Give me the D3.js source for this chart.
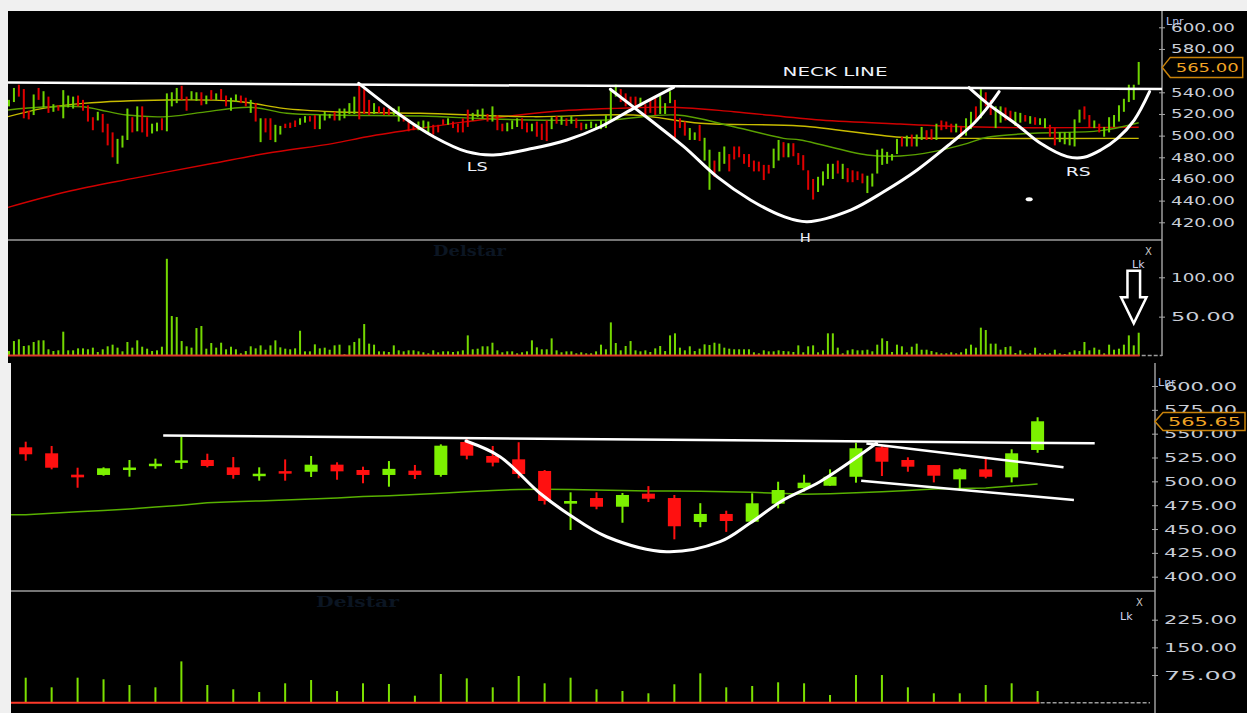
<!DOCTYPE html>
<html>
<head>
<meta charset="utf-8">
<script src="https://cdn.jsdelivr.net/npm/d3@7"></script>
<style>
body{margin:0;background:#f0f0f0;overflow:hidden}
svg{display:block}
</style>
</head>
<body>
<svg id="chart"></svg>
<script>
// ---------- upper chart (daily bars) ----------
var topDir = "GGRRRGRGRG" + "RGGGRRRRGR" + "RRGGGRGRRG" + "GRGGGRRGGR" + "GRGRRGGRRG" +
             "RGRRGGRRRG" + "GRRGGGRGGG" + "GRRRGRRRGG" + "RRRGGGRRRG" + "RRRRGGGRGR" +
             "RGGGRRGRRR" + "GRGRGRRGGG" + "GGGGRRRRGR" + "RRGGGRRRGG" + "RGGRGGRRRR" +
             "RRRRRGGRGR" + "RRRRGGGGRG" + "RRRRGGGGGG" + "GRGRGGRRGR" + "RRGRGGRGRR" +
             "GGRRGGRGRG" + "GRRGGGGGRR" + "GRGGGGGGGG";
var topHigh = [533,544,547,543,523,538,544,541,536,529, 528,542,537,536,537,533,528,517,522,520,
               511,503,497,500,525,517,527,527,517,511, 512,516,539,540,544,546,536,541,540,540,
               537,542,539,543,537,535,538,537,535,533, 530,516,516,516,510,509,511,512,514,516,
               518,518,519,519,522,520,522,525,525,530, 536,547,543,533,530,527,526,525,525,527,
               519,513,511,513,514,513,510,510,515,516, 513,511,516,524,521,524,525,520,527,519,
               511,512,514,516,516,512,511,513,511,514, 517,518,518,516,518,516,512,511,513,511,
               514,519,543,547,543,539,536,536,535,529, 533,536,537,530,541,533,516,513,507,503,
               510,498,487,477,485,490,483,490,490,483, 483,477,476,473,473,488,496,494,493,493,
               484,482,468,460,462,467,474,474,477,474, 470,468,467,465,463,465,487,488,485,483,
               497,499,500,501,501,508,505,506,511,514, 513,511,511,509,516,522,527,543,540,533,
               527,527,526,523,522,521,519,518,517,516, 516,510,507,503,503,503,515,524,527,519,
               514,511,508,517,519,528,534,547,547,568];
var topLow  = [527,531,536,516,515,519,533,526,521,522, 523,516,526,525,527,523,513,505,514,503,
               491,480,474,489,496,503,504,503,499,502, 504,505,504,527,530,533,523,533,532,528,
               529,533,533,533,527,523,531,530,527,521, 513,494,503,496,494,501,507,507,508,510,
               512,513,506,506,514,516,514,514,516,520, 520,515,520,519,520,521,519,519,519,513,
               513,504,505,505,507,503,501,503,510,510, 507,503,503,508,514,517,516,513,513,505,
               504,504,506,508,506,503,504,499,496,495, 506,511,510,509,511,507,505,506,507,506,
               506,507,513,536,531,527,529,527,527,519, 521,519,520,520,530,498,507,500,496,496,
               495,477,450,462,467,474,467,478,480,474, 471,467,467,459,465,470,477,480,480,481,
               473,468,450,441,448,454,460,460,465,460, 457,457,459,456,447,453,465,473,474,477,
               483,490,490,490,490,496,496,496,496,505, 506,503,503,499,500,506,513,516,527,519,
               507,512,514,513,509,512,513,511,510,510, 507,499,491,494,492,491,490,512,515,507,
               507,503,499,503,508,513,522,531,533,547];
var topVol = [6.3,19,21.2,12.7,13.5,17.8,19.9,19.9,8.5,6.3, 7.2,30.9,7.2,7.2,9.7,9.7,8.5,10.6,5.1,8.5,
              12.3,14.4,10.6,5.9,17.8,10.6,19.9,11.8,9.3,6.3, 7.2,11.8,123.5,50.8,49.5,19,12.3,10.6,35.5,38.1,
              9.3,16.5,10.6,16.9,8.5,11.8,8.5,3.4,6.3,12.3, 9.7,13.5,8,13.5,19.9,11,9.3,8.5,9.7,32.1,
              5.9,5.9,14.8,9.7,10.6,8,13.5,14.4,2.1,13.5, 17.8,22.4,40.6,15.7,14.4,5.9,5.9,5.1,13.5,7.2,
              5.9,7.2,7.2,5.9,4.7,3.4,7.2,4.7,5.9,5.9, 5.1,5.9,7.2,26.2,8.5,9.3,12.3,12.3,16.9,7.2,
              4.7,5.9,5.9,3.4,4.7,5.9,19.9,11,8.5,8.5, 22.4,7.2,4.7,5.9,5.9,3.4,4.7,3.4,3.4,5.9,
              14.4,8.5,42.7,16.5,
              7.2,12.7,19,7.2,5.9,7.2,5.1,9.7,12.7,6.3, 26.2,28.8,10.6,7.2,12.3,6.3,9.3,14.8,14,16.9,
              15.7,10.6,9.3,8.5,8.5,8.5,8.5,4.7,3.4,7.2, 5.9,5.9,7.2,6.3,5.9,5.1,13.5,4.7,12.3,13.5,
              4.7,7.2,28.8,28.8,10.6,3.4,7.2,8.5,7.2,7.2, 8,5.9,14.4,22.4,19,5.1,14.4,12.3,4.7,11.8,
              15.7,8,8,6.3,4.7,3.4,3.4,4.7,3.4,4.7, 9.3,14.4,10.6,36,33,15.7,15.7,8,11.4,12.3,
              3.8,7.2,3.4,3.4,10.6,3.4,3.4,3.4,8,3.4, 2.5,4.7,7.2,6.3,17.8,7.2,10.6,8,3.4,14.4,
              8,9.3,14.4,26.2,13.5,29.6];
// moving averages read at [bar index, price]
var maRed = [[-0.2,433.8],[11.7,448.2],[25.2,460.6],[41.4,474.5],[52.3,483.7],[65.8,492.9],[72.6,499],
             [83.4,506.8],[92.8,512.9],[109.7,522.1],[123.3,525.2],[134.7,526.2],[146.9,522.1],
             [164.5,514.4],[180.7,510.7],[194.3,508.2],[207.7,507.3],[229,507.7]];
var maYellow = [[-0.2,517.5],[6.9,525.2],[15,529.8],[32,532.9],[45.5,532],[49.5,529.8],[55.6,525.2],
                [65.7,522.1],[83.4,520.6],[106.3,517.5],[126.6,519],[140.2,511.4],[160.4,508.9],
                [180.7,498.5],[194.3,497.5],[229,497.5]];
var maGreen = [[-0.2,523.7],[6.9,526.4],[15,526.7],[18.5,523.7],[23.9,519],[32,517.5],[38.7,521.2],
               [48.9,526.2],[56.3,520.6],[65.7,519],[83.4,518.1],[99.6,515.1],[121.2,514.4],
               [135.4,519],[146.9,508.2],[157,497.5],[160.4,496],[174,482.1],[180.7,481.2],
               [187.4,485.2],[194.3,492.9],[198.3,498.5],[207.7,502.2],[221.3,504.6],[229,511.9]];
// hand drawn pattern lines [bar index, price]
var topNeck = [[-0.2,549],[233.8,543]];
var lsCurve = [[70.9,548.3],[79.3,519],[86.1,499],[92.8,485.2],[98.2,482.1],[106.3,488.3],
               [113.1,496],[119.9,508.2],[126.6,525.2],[134.7,544.6]];
var hCurve = [[121.9,542.8],[130,514.4],[136.8,489.8],[143.5,462.1],[150.3,440.6],[157.1,425.2],
              [161.8,420.6],[170.6,431.3],[177.3,448.2],[184.1,468.3],[190.9,492.9],[195.6,511.4],
              [199,529.8],[200.7,540.6]];
var rsCurve = [[194.6,544.3],[198.3,529.8],[204.4,509.8],[209.1,492.9],[214.5,480.6],[217.9,480],
               [221.3,486.7],[224.7,497.5],[228.1,514.4],[231.2,540.6]];
var topLabels = [["NECK LINE",156.8,555,105],["LS",92.8,467.3,21],["H",160.3,401.8,11],["RS",214.2,462.7,25]];
var topTicks = [420,440,460,480,500,520,540,580,600];
var topVolTicks = [50,100];
var topLast = 565;

// ---------- lower chart (weekly candles) ----------
var botOpen  = [535.7,529.4,507,506.7,513.5,517.5,521,522.4,514.7,506.7, 510.7,510.1,517.5,511.9,506.7,511.2,506.7,541.3,526.6,523.1,
                510.9,476.6,482.5,473.4,487.1,482.5,457.4,465.8,457.7,476.6, 492.8,495.4,504.8,535.7,522.4,517.1,502.1,512.6,504.2,532.9];
var botHigh  = [541.6,537.1,514.3,514.7,522.4,523.8,546.8,529,525.5,514.7, 523,526.6,520,515.4,521.3,517.2,538.8,546.2,537.1,541,
                511.9,488.5,488.5,487.8,495,485.7,477.1,469.2,487.5,499.6, 507,512.6,540.5,537.1,525.2,517.1,513.7,523.8,533.6,567.2];
var botLow   = [521.7,512.6,493.3,505.9,504.9,513.3,513,514.7,502.8,500.7, 500.7,504.6,501.7,498,494.4,502.5,504.9,523.1,515.7,503.2,
                475.7,449,470.7,456.6,478.3,439.2,451.9,447,457.7,471.7, 489.2,495.4,498.6,505.6,510.1,498.9,490.2,503.2,498.9,530];
var botClose = [528.4,514.3,504.2,513.7,514.5,518.5,522,516.1,506.7,508, 509.5,517.5,510.5,506.7,513.1,506.7,537.4,526.9,519.6,507.7,
                479.4,479.4,473.4,485.7,481.8,452.9,465.8,458.4,477,490.9, 498.6,504.8,534.7,520.6,515.4,505.9,512.6,504.8,529.4,563];
var botVol = [67.8,41.7,67.8,63.4,48,41.7,112,48,36.3,29, 52.6,61.5,31.7,52.6,50.7,19,77.8,66,41.7,72.4,
              52.6,67.8,36.3,31.7,25.5,49.9,79.7,41.7,45.3,55.3, 52.6,20.9,75,75,41.7,25.5,25.5,48,52.6,31.7];
// moving average, first value belongs to the bar before the window
var botMA = [465,465,466.5,468,469.5,471,473,475,477.5,478.5,479.5,480.5,481.5,482.5,484,485,486.3,487.5,489,490.5,
             491.5,491.7,491.5,491,490.5,490,490,489.5,489,488.5,487.5,486.5,487,488,489,490.5,492,492.5,493,495,497.2];
var botNeck = [[5.3,548.1],[41.2,539.9]];
var botCup = [[16.97,542.3],[18.28,525.9],[19.82,487.5],[20.97,464.7],[22.39,441.9],[24.7,426.2],
              [26.76,436.7],[27.91,456],[29.2,480.4],[30.61,499.6],[32.79,539.9]];
var flagTop = [[32.4,539.7],[40.0,514.7]];
var flagBot = [[32.2,500.7],[40.4,480.4]];
var botTicks = [400,425,450,475,500,525,550,575,600];
var botVolTicks = [75,150,225];
var botLast = 565.65;

var W = 1247, H = 713;
var svg = d3.select("#chart").attr("width", W).attr("height", H);

svg.append("rect").attr("width", W).attr("height", H).attr("fill", "#f0f0f0");
svg.append("rect").attr("x", 8).attr("y", 11).attr("width", W - 8).attr("height", 352).attr("fill", "#000");
svg.append("rect").attr("x", 11).attr("y", 363).attr("width", W - 11).attr("height", 350).attr("fill", "#000");

var defs = svg.append("defs");
[["cTop", 8, 11, 1154, 229], ["cTopV", 8, 240, 1154, 123], ["cBot", 11, 363, 1144, 228], ["cBotV", 11, 591, 1144, 122]]
    .forEach(function (c) {
        defs.append("clipPath").attr("id", c[0]).append("rect")
            .attr("x", c[1]).attr("y", c[2]).attr("width", c[3]).attr("height", c[4]);
    });

var xT = d3.scaleLinear().domain([0, topHigh.length - 1]).range([9, 1138.7]);
var yT = d3.scaleLinear().domain([420, 600]).range([222.3, 27.3]);
var yTV = d3.scaleLinear().domain([0, 100]).range([356, 277.3]);
var xB = d3.scaleLinear().domain([0, botOpen.length - 1]).range([25.7, 1037.6]);
var yB = d3.scaleLinear().domain([400, 600]).range([576.7, 386]);
var yBV = d3.scaleLinear().domain([0, 225]).range([702.7, 619.7]);

var GREEN = "#7cf000", RED = "#ff1010";

// panel frames
var frame = svg.append("g").attr("stroke", "#9c9c9c").attr("stroke-width", 1.5);
frame.append("line").attr("x1", 8).attr("x2", 1162).attr("y1", 240).attr("y2", 240);
frame.append("line").attr("x1", 1162).attr("x2", 1162).attr("y1", 11).attr("y2", 356);
frame.append("line").attr("x1", 11).attr("x2", 1155).attr("y1", 591).attr("y2", 591);
frame.append("line").attr("x1", 1155).attr("x2", 1155).attr("y1", 363).attr("y2", 713);

// watermarks
svg.append("text").attr("x", 433).attr("y", 256).attr("textLength", 73).attr("lengthAdjust", "spacingAndGlyphs")
    .attr("font-family", "DejaVu Serif, serif").attr("font-weight", "bold").attr("font-size", 15)
    .attr("fill", "#0b1522").text("Delstar");
svg.append("text").attr("x", 316).attr("y", 607).attr("textLength", 83).attr("lengthAdjust", "spacingAndGlyphs")
    .attr("font-family", "DejaVu Serif, serif").attr("font-weight", "bold").attr("font-size", 15)
    .attr("fill", "#0b1522").text("Delstar");

// ---- upper price panel ----
var gT = svg.append("g").attr("clip-path", "url(#cTop)");
var lineT = d3.line().x(function (d) { return xT(d[0]); }).y(function (d) { return yT(d[1]); });
var smoothT = d3.line().x(function (d) { return xT(d[0]); }).y(function (d) { return yT(d[1]); }).curve(d3.curveCatmullRom);

[[maRed, "#d00000"], [maYellow, "#c8bc00"], [maGreen, "#5aa000"]].forEach(function (m) {
    gT.append("path").attr("d", smoothT(m[0])).attr("fill", "none").attr("stroke", m[1]).attr("stroke-width", 1.4);
});

gT.append("g").selectAll("rect").data(topHigh).enter().append("rect")
    .attr("x", function (d, i) { return xT(i) - 1; })
    .attr("width", 2)
    .attr("y", function (d) { return yT(d); })
    .attr("height", function (d, i) { return Math.max(1.5, yT(topLow[i]) - yT(d)); })
    .attr("fill", function (d, i) { return topDir[i] == "G" ? "#6ed400" : "#e00000"; });

gT.append("path").attr("d", lineT(topNeck)).attr("fill", "none").attr("stroke", "#fff").attr("stroke-width", 2.5);
[lsCurve, hCurve, rsCurve].forEach(function (c) {
    gT.append("path").attr("d", smoothT(c)).attr("fill", "none").attr("stroke", "#fff")
        .attr("stroke-width", 3).attr("stroke-linecap", "round");
});
gT.append("ellipse").attr("cx", xT(206.8)).attr("cy", yT(441.2)).attr("rx", 3.5).attr("ry", 2).attr("fill", "#fff");

svg.append("g").selectAll("text").data(topLabels).enter().append("text")
    .attr("x", function (d) { return xT(d[1]); })
    .attr("y", function (d) { return yT(d[2]); })
    .attr("textLength", function (d) { return d[3]; })
    .attr("lengthAdjust", "spacingAndGlyphs")
    .attr("font-family", "DejaVu Sans, sans-serif").attr("font-size", 12.5)
    .attr("fill", "#eef2fa").text(function (d) { return d[0]; });

// ---- upper volume panel ----
var gTV = svg.append("g").attr("clip-path", "url(#cTopV)");
gTV.append("g").selectAll("rect").data(topVol).enter().append("rect")
    .attr("x", function (d, i) { return xT(i) - 1; })
    .attr("width", 2)
    .attr("y", function (d) { return yTV(d); })
    .attr("height", function (d) { return yTV(0) - yTV(d); })
    .attr("fill", "#74d800");
gTV.append("line").attr("x1", 8).attr("x2", xT(topVol.length - 1) + 1).attr("y1", yTV(0) - 0.5).attr("y2", yTV(0) - 0.5)
    .attr("stroke", "#e03a2a").attr("stroke-width", 2);
gTV.append("line").attr("x1", xT(topVol.length - 1) + 3).attr("x2", 1162).attr("y1", yTV(0) - 0.5).attr("y2", yTV(0) - 0.5)
    .attr("stroke", "#9c9c9c").attr("stroke-width", 1.5).attr("stroke-dasharray", "4,2");

// arrow pointing at the breakout volume
var ax = xT(228), aTop = yTV(108.4), aHead = yTV(74.6), aTip = yTV(41.5);
svg.append("path")
    .attr("d", "M" + (ax - 6.3) + "," + aTop + "H" + (ax + 6.3) + "V" + aHead + "H" + (ax + 12.7) +
        "L" + ax + "," + aTip + "L" + (ax - 12.7) + "," + aHead + "H" + (ax - 6.3) + "Z")
    .attr("fill", "#000").attr("stroke", "#fff").attr("stroke-width", 2.5).attr("stroke-linejoin", "miter");

// ---- lower price panel ----
var gB = svg.append("g").attr("clip-path", "url(#cBot)");
var lineB = d3.line().x(function (d) { return xB(d[0]); }).y(function (d) { return yB(d[1]); });
var smoothB = d3.line().x(function (d) { return xB(d[0]); }).y(function (d) { return yB(d[1]); }).curve(d3.curveCatmullRom);

gB.append("path").attr("d", d3.line().x(function (d, i) { return xB(i - 1); }).y(function (d) { return yB(d); })(botMA))
    .attr("fill", "none").attr("stroke", "#58b000").attr("stroke-width", 1.5);

var cnd = gB.append("g").selectAll("g").data(botOpen).enter().append("g");
cnd.append("rect")
    .attr("x", function (d, i) { return xB(i) - 1; })
    .attr("width", 2)
    .attr("y", function (d, i) { return yB(botHigh[i]); })
    .attr("height", function (d, i) { return yB(botLow[i]) - yB(botHigh[i]); })
    .attr("fill", function (d, i) { return botClose[i] >= d ? GREEN : RED; });
cnd.append("rect")
    .attr("x", function (d, i) { return xB(i) - 6.5; })
    .attr("width", 13)
    .attr("y", function (d, i) { return yB(Math.max(d, botClose[i])); })
    .attr("height", function (d, i) { return Math.max(2.5, Math.abs(yB(d) - yB(botClose[i]))); })
    .attr("fill", function (d, i) { return botClose[i] >= d ? GREEN : RED; });

gB.append("path").attr("d", lineB(botNeck)).attr("fill", "none").attr("stroke", "#fff").attr("stroke-width", 2.5);
gB.append("path").attr("d", smoothB(botCup)).attr("fill", "none").attr("stroke", "#fff").attr("stroke-width", 3).attr("stroke-linecap", "round");
[flagTop, flagBot].forEach(function (f) {
    gB.append("path").attr("d", lineB(f)).attr("fill", "none").attr("stroke", "#fff").attr("stroke-width", 2.5);
});

// ---- lower volume panel ----
var gBV = svg.append("g").attr("clip-path", "url(#cBotV)");
gBV.append("g").selectAll("rect").data(botVol).enter().append("rect")
    .attr("x", function (d, i) { return xB(i) - 1; })
    .attr("width", 2)
    .attr("y", function (d) { return yBV(d); })
    .attr("height", function (d) { return yBV(0) - yBV(d); })
    .attr("fill", "#7ce000");
gBV.append("line").attr("x1", 11).attr("x2", xB(botVol.length - 1) + 2).attr("y1", yBV(0)).attr("y2", yBV(0))
    .attr("stroke", "#ff3a2a").attr("stroke-width", 2);
gBV.append("line").attr("x1", xB(botVol.length - 1) + 3).attr("x2", 1150).attr("y1", yBV(0)).attr("y2", yBV(0))
    .attr("stroke", "#9c9c9c").attr("stroke-width", 1.5).attr("stroke-dasharray", "4,2");

// ---- axes ----
function drawAxis(scale, ticks, x, len) {
    var g = svg.append("g").attr("transform", "translate(" + x + ",0)")
        .call(d3.axisRight(scale).tickValues(ticks).tickFormat(d3.format(".2f")).tickSize(3).tickPadding(6));
    g.select(".domain").remove();
    g.selectAll(".tick line").attr("x1", -3).attr("stroke", "#a8a8a8");
    g.selectAll(".tick text")
        .attr("fill", "#c9cdd6").attr("font-family", "DejaVu Sans, sans-serif").attr("font-size", 12.5)
        .attr("textLength", len).attr("lengthAdjust", "spacingAndGlyphs");
    return g;
}
drawAxis(yT, topTicks, 1162, 64);
drawAxis(yTV, topVolTicks, 1162, 64);
drawAxis(yB, botTicks, 1155, 73);
drawAxis(yBV, botVolTicks, 1155, 73);

function small(x, y, t, size, color) {
    svg.append("text").attr("x", x).attr("y", y).attr("font-family", "DejaVu Sans, sans-serif")
        .attr("font-size", size).attr("fill", color).text(t);
}
small(1166, 25, "Lnr", 11, "#b8c6ee");
small(1158, 386, "Lnr", 11, "#b8c6ee");
small(1145, 255, "X", 10, "#c8c8c8");
small(1132, 268, "Lk", 11, "#d0d4f0");
small(1136, 606, "X", 10, "#c8c8c8");
small(1120, 620, "Lk", 11, "#d0d4f0");

// last price badges
function badge(x, y, right, h, txt, len) {
    var g = svg.append("g");
    g.append("path")
        .attr("d", "M" + x + "," + y + "L" + (x + 8) + "," + (y - h / 2) + "H" + right + "V" + (y + h / 2) + "H" + (x + 8) + "Z")
        .attr("fill", "#000").attr("stroke", "#c8820a").attr("stroke-width", 1.5);
    g.append("text").attr("x", right - 4).attr("y", y + 4.5).attr("text-anchor", "end")
        .attr("textLength", len).attr("lengthAdjust", "spacingAndGlyphs")
        .attr("font-family", "DejaVu Sans, sans-serif").attr("font-size", 12.5).attr("fill", "#f0a424")
        .text(txt);
}
badge(1162.3, yT(topLast - 2), 1242.7, 20, d3.format(".2f")(topLast), 63);
badge(1155, yB(botLast - 3), 1245, 18, d3.format(".2f")(botLast), 73);
</script>
</body>
</html>
